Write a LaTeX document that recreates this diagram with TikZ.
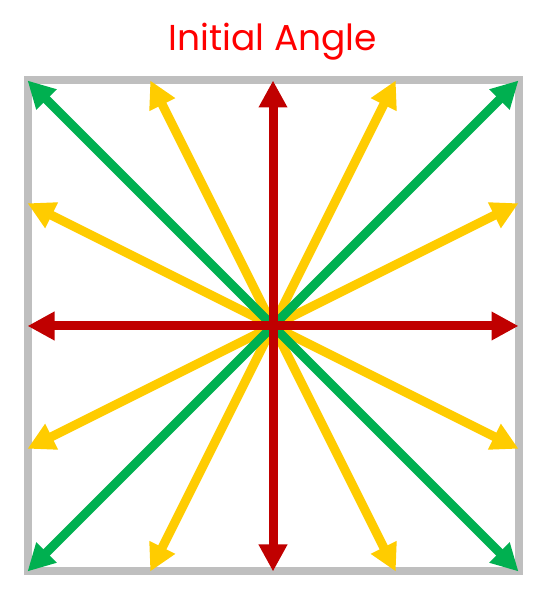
\documentclass[tikz,border=0pt]{standalone}
\usepackage{fontspec}
\newfontfamily\titlefont{Poppins}
\usetikzlibrary{arrows.meta}
\definecolor{rayred}{HTML}{C00000}
\definecolor{raygreen}{HTML}{00B050}
\definecolor{rayyellow}{HTML}{FFCC00}
\definecolor{framegray}{HTML}{BFBFBF}
\tikzset{
    ray/.style ={
        line width=9pt,
        >={Triangle[width=27pt,length=27pt]},
        <->
    },
    frame/.style ={
        draw=framegray,
        line width=8pt
    }
}
\begin{document}
\begin{tikzpicture}[x=1pt,y=1pt]
        \useasboundingbox (0,0) rectangle (547,599);
        \node[anchor=base, text=red, font=\titlefont\fontsize{36}{40}\selectfont] (TITLE) at(273,548) {Initial Angle};
        \draw[frame] (27.5,27.5) rectangle (518.5,518.5);
        \coordinate (N) at(273,518.5);
        \coordinate (S) at(273,27.5);
        \coordinate (E) at(518.5,273);
        \coordinate (W) at(27.5,273);
        \coordinate (NE) at(518.5,518.5);
        \coordinate (NW) at(27.5,518.5);
        \coordinate (SE) at(518.5,27.5);
        \coordinate (SW) at(27.5,27.5);
        \coordinate (NNE) at(395.75,518.5);
        \coordinate (NNW) at(150.25,518.5);
        \coordinate (SSE) at(395.75,27.5);
        \coordinate (SSW) at(150.25,27.5);
        \coordinate (ENE) at(518.5,395.75);
        \coordinate (ESE) at(518.5,150.25);
        \coordinate (WNW) at(27.5,395.75);
        \coordinate (WSW) at(27.5,150.25);
        \draw[ray, rayyellow] (NNE)--(SSW);
        \draw[ray, rayyellow] (NNW)--(SSE);
        \draw[ray, rayyellow] (ENE)--(WSW);
        \draw[ray, rayyellow] (ESE)--(WNW);
        \draw[ray, raygreen] (NE)--(SW);
        \draw[ray, raygreen] (NW)--(SE);
        \draw[ray, rayred] (N)--(S);
        \draw[ray, rayred] (E)--(W);
    \end{tikzpicture}
\end{document}
